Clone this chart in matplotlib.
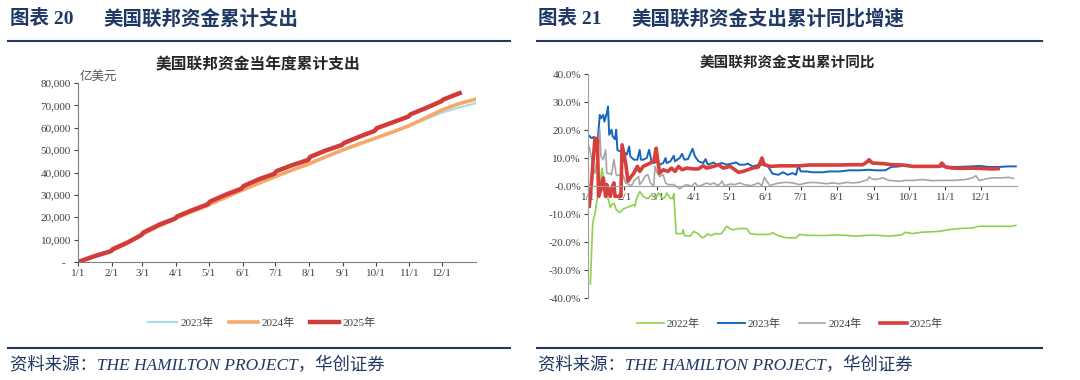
import numpy as np
import matplotlib
matplotlib.use("Agg")
import matplotlib.pyplot as plt
from matplotlib.lines import Line2D
from matplotlib.ticker import FuncFormatter

plt.rcParams['font.family'] = ['Liberation Serif', 'Noto Sans CJK SC']
plt.rcParams['axes.unicode_minus'] = False

# month starts (day of year) and labels
month_days = [0, 31, 59, 90, 120, 151, 181, 212, 243, 273, 304, 334]
month_labels = ["1/1", "2/1", "3/1", "4/1", "5/1", "6/1", "7/1", "8/1", "9/1", "10/1", "11/1", "12/1"]

# ---- left chart: cumulative spending (100 million USD)
cum_days_25 = [0, 15, 30, 32, 45, 58, 60, 75, 89, 91, 105, 119, 121, 135, 150, 152, 166, 180, 182, 196, 211, 213,
               227, 242, 244, 258, 272, 274, 288, 303, 305, 319, 333, 335, 350]
cum_2025 = [0, 2600, 4800, 5800, 8600, 12000, 13200, 16800, 19400, 20400, 23200, 25800, 27000, 30000, 32800, 34000,
            37000, 39400, 40600, 43200, 45600, 47000, 49800, 52300, 53200, 56000, 58600, 59800, 62300, 65000, 66000,
            68800, 71800, 72600, 75500]
cum_days = [0, 15, 31, 46, 59, 74, 90, 105, 120, 135, 151, 166, 181, 196, 212, 227, 243, 258, 273, 288, 304, 319, 334, 349, 365]
cum_2024 = [0, 2500, 5000, 8700, 12400, 16000, 19600, 22600, 25500, 28800, 32200, 35200, 38200, 41000,
            43900, 47000, 50100, 52800, 55400, 58000, 61000, 64500, 68000, 70700, 72800]
cum_2023 = [0, 2500, 5000, 8700, 12400, 16000, 19600, 22600, 25500, 28800, 32200, 35200, 38200, 41000,
            43900, 47000, 50100, 52800, 55400, 58000, 60800, 63800, 66800, 69000, 71000]

# ---- right chart: cumulative YoY growth (%)
d22 = [2, 4, 6, 9, 12, 13, 15, 17, 19, 20, 22, 23, 24, 27, 30, 34, 39, 40, 41, 44, 47, 51, 54, 57, 60, 63, 65, 67, 70,
       72, 73, 75, 80, 81, 82, 87, 90, 94, 97, 99, 102, 105, 108, 113, 115, 118, 121, 123, 129, 135, 138, 143, 154, 157,
       163, 169, 177, 180, 186, 200, 214, 228, 242, 256, 267, 270, 276, 284, 299, 307, 315, 327, 332, 349, 361, 364]
y22 = [-35.0, -13.2, -9.6, -1.3, 6.4, 2.9, -3.1, -4.3, -7.7, -6.7, -6.1, -7.2, -8.4, -9.5, -8.2, -7.5, -6.7, -7.2, -4.9,
       -2.0, -3.7, -4.6, -3.1, -4.3, -2.5, -4.3, -4.3, -2.5, -4.4, -4.5, -2.7, -17.0, -17.0, -15.6, -17.7, -17.9, -16.2,
       -17.1, -18.5, -18.2, -17.1, -17.7, -17.0, -17.1, -16.2, -14.4, -15.3, -15.6, -15.2, -15.2, -17.0, -17.3, -17.3,
       -16.7, -17.9, -18.5, -18.5, -17.3, -17.6, -17.7, -17.5, -17.9, -17.5, -17.9, -17.5, -16.5, -17.0, -16.5, -16.2,
       -15.6, -15.2, -15.0, -14.4, -14.4, -14.4, -14.0]

d23 = [1, 3, 5, 6, 8, 10, 11, 13, 14, 16, 17, 18, 20, 21, 23, 24, 25, 27, 30, 33, 35, 36, 39, 42, 44, 45, 47, 50, 52, 54,
       56, 59, 61, 64, 66, 67, 70, 73, 74, 78, 80, 82, 85, 89, 91, 94, 98, 100, 102, 107, 109, 114, 118, 122, 126, 129,
       133, 136, 140, 146, 152, 155, 157, 162, 166, 170, 174, 177, 179, 181, 186, 191, 200, 205, 214, 222, 231, 239, 245,
       253, 258, 265, 270, 276, 285, 293, 299, 313, 327, 333, 341, 349, 358, 364]
y23 = [17.9, 17.1, 17.5, 15.9, 14.7, 25.4, 24.2, 25.4, 23.0, 26.0, 28.4, 18.3, 20.1, 17.7, 16.7, 20.1, 12.9, 12.4, 12.4,
       11.2, 14.1, 10.6, 9.4, 9.4, 12.9, 9.4, 9.4, 10.0, 12.9, 8.8, 8.2, 8.8, 7.6, 8.2, 10.0, 8.2, 8.8, 10.8, 8.8, 10.0,
       11.5, 9.4, 9.6, 13.3, 10.6, 8.8, 8.2, 9.6, 7.6, 8.4, 7.6, 8.2, 7.6, 8.0, 8.4, 7.6, 7.6, 8.0, 7.0, 7.6, 7.6, 5.8,
       4.4, 4.0, 4.9, 4.0, 4.6, 4.0, 7.2, 5.2, 5.2, 4.9, 4.9, 5.2, 5.2, 5.6, 5.6, 5.8, 5.6, 5.6, 6.8, 7.0, 7.6, 6.8, 7.0,
       6.8, 7.0, 6.8, 7.0, 7.2, 6.8, 6.8, 7.0, 7.0]

d24 = [1, 4, 6, 8, 10, 11, 13, 15, 16, 19, 20, 22, 24, 26, 27, 30, 32, 35, 37, 40, 43, 44, 47, 49, 51, 53, 56, 57, 59,
       61, 64, 66, 68, 73, 75, 78, 81, 84, 88, 91, 94, 98, 101, 104, 107, 111, 114, 116, 121, 125, 129, 133, 139, 145,
       148, 150, 152, 155, 157, 163, 169, 174, 180, 186, 191, 197, 203, 208, 214, 220, 225, 231, 238, 239, 242, 245,
       251, 256, 265, 270, 276, 285, 293, 299, 310, 321, 327, 330, 333, 338, 344, 352, 358, 362]
y24 = [14.1, 7.6, 4.6, 10.6, 20.1, 10.6, 9.4, 12.9, 4.6, 4.4, 4.0, 9.4, 4.0, 3.7, 4.0, 3.7, 1.1, 0.5, 0.1, 2.3, 3.4,
       0.5, 2.3, 3.7, 4.0, 1.1, 0.1, 7.0, 4.6, 3.4, 4.0, 1.1, 0.5, 0.5, -0.1, -1.0, -0.1, 0.5, -0.1, 1.1, -0.1, 0.5,
       1.1, 0.5, 1.1, 0.1, 1.7, 0.1, 0.7, 0.5, 1.1, 0.5, 0.1, 1.1, 0.1, 3.1, 1.7, 0.1, 0.5, 1.1, 1.3, 1.1, 0.5, 1.1,
       1.3, 1.1, 0.8, 1.1, 0.8, 1.3, 1.1, 1.3, 2.3, 3.2, 2.5, 2.3, 2.9, 2.0, 1.7, 2.0, 2.0, 2.3, 1.9, 2.0, 2.0, 2.3,
       2.9, 3.7, 1.9, 2.5, 2.9, 2.9, 3.1, 2.7]

d25 = [1, 2, 4, 6, 8, 9, 11, 12, 13, 15, 16, 18, 19, 20, 22, 23, 26, 28, 29, 32, 34, 36, 39, 42, 44, 47, 50, 53, 56, 58,
       59, 61, 64, 68, 71, 74, 77, 80, 84, 90, 94, 98, 101, 107, 111, 115, 121, 125, 128, 132, 136, 140, 145, 148, 150,
       155, 163, 172, 180, 188, 197, 205, 214, 225, 234, 238, 239, 242, 251, 259, 268, 276, 285, 299, 301, 304, 310,
       318, 327, 338, 344, 349]
y25 = [-7.2, -3.7, 7.0, 17.1, 16.5, -3.7, -1.3, 1.7, 2.9, -3.7, 0.5, -2.5, -3.7, -1.3, 1.1, -3.7, -3.7, -3.7, 14.7,
       8.2, 1.7, 2.9, 4.6, 7.0, 5.2, 7.0, 7.6, 8.2, 8.8, 13.5, 10.0, 4.6, 5.8, 5.2, 6.4, 5.2, 7.0, 5.8, 6.4, 6.1, 6.1,
       7.2, 6.4, 7.0, 7.6, 6.4, 7.0, 5.8, 4.9, 5.2, 5.8, 6.4, 6.8, 10.0, 7.6, 7.0, 7.2, 7.2, 7.2, 7.5, 7.5, 7.5, 7.5,
       7.6, 7.6, 8.8, 9.4, 8.2, 8.0, 7.6, 7.5, 7.0, 7.0, 7.0, 8.2, 6.8, 6.4, 6.3, 6.4, 6.2, 6.1, 6.2]

navy = '#1F3864'
axis_grey = '#7F7F7F'
text_grey = '#404040'

fig = plt.figure(figsize=(10.8, 3.8), dpi=100)

# headers
fig.text(10 / 1080, 1 - 19 / 380, "图表 20", fontsize=14, fontweight='bold', color=navy, va='center')
fig.text(103 / 1080, 1 - 19 / 380, "美国联邦资金累计支出", fontsize=14, fontweight='bold', color=navy, va='center')
fig.text(538 / 1080, 1 - 19 / 380, "图表 21", fontsize=14, fontweight='bold', color=navy, va='center')
fig.text(631 / 1080, 1 - 19 / 380, "美国联邦资金支出累计同比增速", fontsize=14, fontweight='bold', color=navy, va='center')
for x0, x1 in [(8, 510), (537, 1042)]:
    fig.add_artist(Line2D([x0 / 1080, x1 / 1080], [1 - 41 / 380] * 2, color=navy, lw=1.5))
    fig.add_artist(Line2D([x0 / 1080, x1 / 1080], [1 - 348 / 380] * 2, color=navy, lw=1.5))
fig.text(10 / 1080, 1 - 366 / 380, "资料来源：THE HAMILTON PROJECT，华创证券", fontsize=12.5, style='italic',
         color=navy, va='center')
fig.text(538 / 1080, 1 - 366 / 380, "资料来源：THE HAMILTON PROJECT，华创证券", fontsize=12.5, style='italic',
         color=navy, va='center')

# ---- left chart
ax1 = fig.add_axes([78 / 1080, 1 - 262 / 380, 398 / 1080, 179 / 380])
ax1.plot(cum_days, cum_2023, color='#A8DCEA', lw=1.6, label='2023年')
ax1.plot(cum_days, cum_2024, color='#F5A86A', lw=2.6, label='2024年')
ax1.plot(cum_days_25, cum_2025, color='#D13B38', lw=3.2, label='2025年')
ax1.set_xlim(0, 365)
ax1.set_ylim(0, 80000)
ax1.set_yticks(np.arange(0, 80001, 10000))
ax1.yaxis.set_major_formatter(FuncFormatter(lambda v, p: '-  ' if v == 0 else f'{v:,.0f}'))
ax1.set_xticks(month_days)
ax1.set_xticklabels(month_labels)
for s in ['top', 'right']:
    ax1.spines[s].set_visible(False)
for s in ['left', 'bottom']:
    ax1.spines[s].set_color(axis_grey)
ax1.tick_params(axis='both', labelsize=8, colors=text_grey, length=3, pad=2)
ax1.text(0.005, 1.0, "亿美元", transform=ax1.transAxes, fontsize=9, color='#595959', va='bottom', ha='left')
fig.text(258 / 1080, 1 - 65 / 380, "美国联邦资金当年度累计支出", fontsize=11.3, fontweight='bold', color='#262626',
         ha='center', va='center')
fig.legend(handles=ax1.get_lines(), loc='center', bbox_to_anchor=(262 / 1080, 1 - 323 / 380), ncol=3,
           frameon=False, fontsize=8, handlelength=2.6, handletextpad=0.3, columnspacing=1.4, labelcolor=text_grey)

# ---- right chart
ax2 = fig.add_axes([588 / 1080, 1 - 298 / 380, 429 / 1080, 224 / 380])
ax2.plot(d22, np.array(y22) / 100, color='#8DD14F', lw=1.2, label='2022年')
ax2.plot(d23, np.array(y23) / 100, color='#1565C0', lw=1.4, label='2023年')
ax2.plot(d24, np.array(y24) / 100, color='#A6A6A6', lw=1.2, label='2024年')
ax2.plot(d25, np.array(y25) / 100, color='#D63F3C', lw=2.6, label='2025年')
ax2.set_xlim(0, 365)
ax2.set_ylim(-0.4, 0.4)
ax2.set_yticks(np.arange(-0.4, 0.41, 0.1))
ax2.yaxis.set_major_formatter(FuncFormatter(lambda v, p: f'{v * 100:.1f}%'))
ax2.set_xticks(month_days)
ax2.set_xticklabels(month_labels)
ax2.spines['bottom'].set_position(('data', 0))
for s in ['top', 'right']:
    ax2.spines[s].set_visible(False)
for s in ['left', 'bottom']:
    ax2.spines[s].set_color('#A0A0A0')
ax2.tick_params(axis='both', labelsize=8, colors=text_grey, length=3, pad=2)
fig.text(787 / 1080, 1 - 63 / 380, "美国联邦资金支出累计同比", fontsize=10.5, fontweight='bold', color='#262626',
         ha='center', va='center')
fig.legend(handles=ax2.get_lines(), loc='center', bbox_to_anchor=(790 / 1080, 1 - 324 / 380), ncol=4,
           frameon=False, fontsize=8, handlelength=2.4, handletextpad=0.3, columnspacing=1.6, labelcolor=text_grey)

fig.savefig("out.png", dpi=100)
